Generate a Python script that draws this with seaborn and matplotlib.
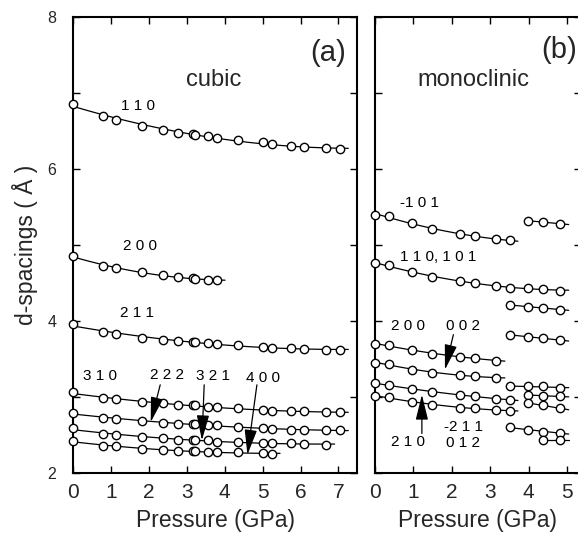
import numpy as np
import pandas as pd
import matplotlib
matplotlib.use("Agg")
import matplotlib.pyplot as plt
import seaborn as sns

sns.set_theme(style="ticks")
plt.rcParams["font.family"] = ["Liberation Sans", "DejaVu Sans"]

# ---------------- data: (a) cubic ----------------
P_CUBIC = [0.00, 0.80, 1.14, 1.81, 2.37, 2.77, 3.16, 3.23, 3.57, 3.79,
           4.34, 5.02, 5.24, 5.75, 6.10, 6.68, 7.04]
D_110 = [6.86, 6.70, 6.65, 6.57, 6.51, 6.48, 6.46, 6.45, 6.43, 6.41,
         6.38, 6.35, 6.33, 6.30, 6.29, 6.27, 6.26]
D_200 = [4.85, 4.73, 4.70, 4.64, 4.60, 4.58, 4.56, 4.55, 4.54, 4.54]
D_211 = [3.96, 3.86, 3.83, 3.78, 3.75, 3.74, 3.72, 3.72, 3.71, 3.70,
         3.68, 3.66, 3.65, 3.64, 3.63, 3.62, 3.62]
D_310 = [3.06, 2.99, 2.97, 2.93, 2.92, 2.89, 2.89, 2.89, 2.87, 2.87,
         2.85, 2.83, 2.82, 2.81, 2.81, 2.80, 2.80]
D_222 = [2.79, 2.73, 2.71, 2.68, 2.66, 2.65, 2.64, 2.64, 2.63, 2.63,
         2.61, 2.59, 2.58, 2.57, 2.57, 2.56, 2.56]
D_321 = [2.59, 2.51, 2.50, 2.48, 2.46, 2.44, 2.43, 2.43, 2.43, 2.41,
         2.41, 2.40, 2.39, 2.39, 2.38, 2.37]
D_400 = [2.42, 2.36, 2.35, 2.32, 2.30, 2.29, 2.29, 2.29, 2.28, 2.27,
         2.27, 2.26, 2.25]
CUBIC_SERIES = {"110": D_110, "200": D_200, "211": D_211, "310": D_310,
                "222": D_222, "321": D_321, "400": D_400}

# ---------------- data: (b) monoclinic ----------------
P_MONO_LOW = [0.00, 0.36, 0.95, 1.48, 2.21, 2.59, 3.16, 3.50]
P_MONO_HIGH = [3.50, 3.99, 4.38, 4.82]
D_M101 = [5.40, 5.38, 5.29, 5.21, 5.14, 5.12, 5.08, 5.06]
D_M101_HP = [5.32, 5.30, 5.28]
D_110_101 = [4.76, 4.74, 4.64, 4.58, 4.53, 4.50, 4.46, 4.44, 4.43, 4.42, 4.40]
D_HP1 = [4.21, 4.19, 4.17, 4.15]
D_HP2 = [3.82, 3.79, 3.77, 3.75]
D_M200 = [3.70, 3.68, 3.62, 3.57, 3.53, 3.51, 3.48]
D_M002 = [3.45, 3.44, 3.36, 3.32, 3.29, 3.28, 3.25]
D_M211 = [3.18, 3.16, 3.10, 3.07, 3.03, 3.01, 2.98, 2.96]
D_M012 = [3.01, 3.00, 2.94, 2.90, 2.86, 2.85, 2.83, 2.82]
D_HP3 = [3.14, 3.14, 3.14, 3.12]
D_HP4 = [3.03, 3.01, 3.01]
D_HP5 = [2.92, 2.89, 2.85]
D_HP6 = [2.60, 2.57, 2.54, 2.53]
D_HP7 = [2.43, 2.43]

MONO_SERIES = [
    ("-101", P_MONO_LOW, D_M101),
    ("-101 hp", P_MONO_HIGH[1:], D_M101_HP),
    ("110,101", P_MONO_LOW + P_MONO_HIGH[1:], D_110_101),
    ("hp1", P_MONO_HIGH, D_HP1),
    ("hp2", P_MONO_HIGH, D_HP2),
    ("200", P_MONO_LOW[:7], D_M200),
    ("002", P_MONO_LOW[:7], D_M002),
    ("-211", P_MONO_LOW, D_M211),
    ("012", P_MONO_LOW, D_M012),
    ("hp3", P_MONO_HIGH, D_HP3),
    ("hp4", P_MONO_HIGH[1:], D_HP4),
    ("hp5", P_MONO_HIGH[1:], D_HP5),
    ("hp6", P_MONO_HIGH, D_HP6),
    ("hp7", P_MONO_HIGH[2:], D_HP7),
]

fig = plt.figure(figsize=(5.78, 5.37), dpi=100)
ax1 = fig.add_axes([73 / 578, 1 - 473 / 537, (357 - 73) / 578, (473 - 17) / 537])
ax2 = fig.add_axes([375 / 578, 1 - 473 / 537, (581 - 375) / 578, (473 - 17) / 537])


def draw_series(ax, p, d):
    p = np.asarray(p, float)
    d = np.asarray(d, float)
    deg = 2 if len(p) >= 5 else 1
    coef = np.polyfit(p, d, deg)
    xs = np.linspace(p[0], p[-1] + 0.22, 60)
    fit = pd.DataFrame({"P": xs, "d": np.polyval(coef, xs)})
    sns.lineplot(data=fit, x="P", y="d", ax=ax, color="black", lw=0.9,
                 zorder=2, clip_on=False)
    pts = pd.DataFrame({"P": p, "d": d})
    sns.scatterplot(data=pts, x="P", y="d", ax=ax, marker="o", s=36,
                    facecolor="white", edgecolor="black", linewidth=1.0,
                    zorder=3, clip_on=False)


for name, d in CUBIC_SERIES.items():
    draw_series(ax1, P_CUBIC[:len(d)], d)
for name, p, d in MONO_SERIES:
    draw_series(ax2, p, d)

for ax, xmax, xt in [(ax1, 7.49, range(0, 8)), (ax2, 5.36, range(0, 6))]:
    ax.set_xlim(0, xmax)
    ax.set_ylim(2, 8)
    ax.set_xticks(list(xt))
    ax.set_yticks(range(2, 9))
    ax.tick_params(direction="in", length=5, width=1.0, top=True, right=True,
                   color="black")
    ax.tick_params(axis="x", labelsize=15, pad=7)
    ax.tick_params(axis="y", labelsize=11.5, pad=12)
    for sp in ax.spines.values():
        sp.set_linewidth(1.5)
        sp.set_color("black")
    ax.set_xlabel("Pressure (GPa)", fontsize=16.5, labelpad=5)
    ax.set_facecolor("white")

ax1.set_yticklabels(["2", "", "4", "", "6", "", "8"])
ax1.set_ylabel("d-spacings ( Å )", fontsize=16.5, labelpad=7)
ax2.set_yticklabels([])
ax2.set_ylabel("")

lab = dict(fontsize=11, ha="center", va="center", color="black")
arrow = dict(arrowstyle="-|>,head_length=1.3,head_width=0.32", color="black",
             lw=0.9, shrinkA=0, shrinkB=0)

ax1.text(6.74, 7.52, "(a)", fontsize=21, ha="center", va="center")
ax1.text(3.70, 7.17, "cubic", fontsize=17, ha="center", va="center")
ax1.text(1.72, 6.83, "1 1 0", **lab)
ax1.text(1.77, 4.99, "2 0 0", **lab)
ax1.text(1.70, 4.10, "2 1 1", **lab)
ax1.text(0.71, 3.27, "3 1 0", **lab)
ax1.text(2.47, 3.29, "2 2 2", **lab)
ax1.text(3.70, 3.27, "3 2 1", **lab)
ax1.text(5.02, 3.25, "4 0 0", **lab)
ax1.annotate("", xy=(2.05, 2.67), xytext=(2.30, 3.16), arrowprops=arrow)
ax1.annotate("", xy=(3.40, 2.43), xytext=(3.46, 3.16), arrowprops=arrow)
ax1.annotate("", xy=(4.60, 2.24), xytext=(4.85, 3.16), arrowprops=arrow)

ax2.text(4.78, 7.57, "(b)", fontsize=21, ha="center", va="center")
ax2.text(2.57, 7.17, "monoclinic", fontsize=17, ha="center", va="center")
ax2.text(1.17, 5.55, "-1 0 1", **lab)
ax2.text(1.65, 4.84, "1 1 0, 1 0 1", **lab)
ax2.text(0.87, 3.93, "2 0 0", **lab)
ax2.text(2.30, 3.93, "0 0 2", **lab)
ax2.text(0.87, 2.41, "2 1 0", **lab)
ax2.text(2.30, 2.60, "-2 1 1", **lab)
ax2.text(2.30, 2.40, "0 1 2", **lab)
ax2.annotate("", xy=(1.82, 3.36), xytext=(2.04, 3.82), arrowprops=arrow)
ax2.annotate("", xy=(1.22, 3.03), xytext=(1.22, 2.52), arrowprops=arrow)

fig.savefig("out.png", dpi=100, facecolor="white")
